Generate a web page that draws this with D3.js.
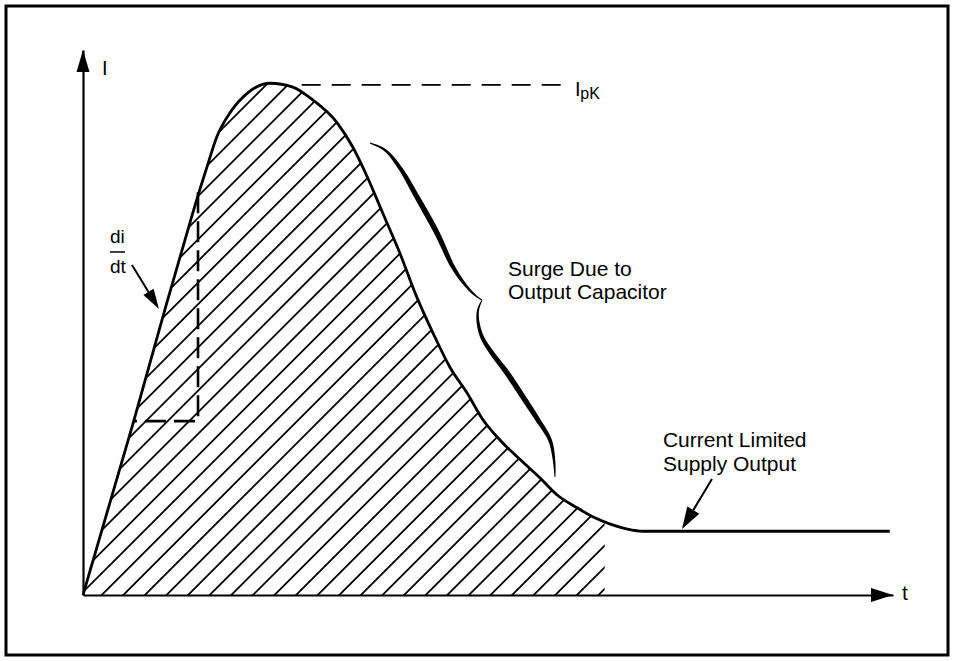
<!DOCTYPE html>
<html><head><meta charset="utf-8">
<script src="https://cdn.jsdelivr.net/npm/d3@7"></script>
<style>
html,body{margin:0;padding:0;background:#fff}
svg{display:block}
text{font-family:"Liberation Sans",Arial,Helvetica,sans-serif;fill:#000}
</style>
</head><body>
<svg id="c" width="954" height="661"></svg>
<script>
// ---- data (time t, current I in arbitrary units) ----
const timeValues    = [0, 6.2, 10.1, 13.2, 14.4, 15.3, 16.5, 18.2, 20.3, 23.1, 25.9, 28.4, 31.4, 33.3, 35.1, 37.0, 39.1, 41.2, 43.2, 45.3, 47.4, 49.4, 51.5, 54.0, 56.4, 58.5, 61.0, 63.0, 65.1, 67.2, 69.1, 99.6];
const currentValues = [0, 31.6, 52.3, 68.3, 74.3, 78.5, 84.0, 88.6, 92.1, 93.9, 93.2, 90.8, 86.6, 82.2, 76.7, 70.1, 62.8, 54.7, 48.1, 41.8, 37.1, 32.1, 28.4, 24.8, 21.5, 18.4, 16.0, 14.3, 13.0, 12.1, 11.7, 11.7];
const hatchEndT = 64.4;
const peakLineT = [27.0, 60.1];
const peakI = 93.6;
const slopeBoxT = [6.3, 14.2];
const slopeBoxI = [31.9, 73.9];
const braceUpperT = [35.43, 37.28, 39.14, 41.23, 43.70, 45.68, 47.41, 48.52, 49.26];
const braceUpperI = [82.94, 81.65, 78.35, 73.03, 66.42, 60.18, 56.51, 54.86, 54.13];
const braceLowerT = [49.26, 48.77, 48.77, 49.26, 50.49, 52.35, 54.32, 56.17, 57.65, 58.15, 58.27];
const braceLowerI = [54.13, 52.29, 50.09, 47.34, 44.40, 40.73, 36.33, 32.11, 28.44, 24.77, 21.65];
const axisLabels = ["t", "I"];
const surgeLabel = ["Surge Due to", "Output Capacitor"];
const supplyLabel = ["Current Limited", "Supply Output"];
const peakLabel = ["I", "pK"];
const slopeLabel = ["di", "dt"];

// ---- scales ----
const svg = d3.select("#c");
const x = d3.scaleLinear().domain([0, 100]).range([83, 893]);
const y = d3.scaleLinear().domain([0, 100]).range([595, 50]);

// border
svg.append("rect").attr("x", 6).attr("y", 6).attr("width", 942).attr("height", 649)
  .attr("fill", "none").attr("stroke", "#000").attr("stroke-width", 3);

const pts = timeValues.map((t, i) => [t, currentValues[i]]);
const line = d3.line().x(d => x(d[0])).y(d => y(d[1])).curve(d3.curveMonotoneX);
const area = d3.area().x(d => x(d[0])).y0(y(0)).y1(d => y(d[1])).curve(d3.curveMonotoneX);

// hatch clip
const defs = svg.append("defs");
defs.append("clipPath").attr("id", "underCurve").append("path").attr("d", area(pts));
defs.append("clipPath").attr("id", "hatchRect").append("rect")
  .attr("x", x(0)).attr("y", 0).attr("width", x(hatchEndT) - x(0)).attr("height", y(0));

const hg = svg.append("g").attr("clip-path", "url(#hatchRect)")
  .append("g").attr("clip-path", "url(#underCurve)");
const spacing = 21.6, c0 = 696.7;
for (let k = -35; k < 40; k++) {
  const c = c0 + spacing * k;
  hg.append("line").attr("x1", c - 700).attr("y1", 700).attr("x2", c + 100).attr("y2", -100)
    .attr("stroke", "#000").attr("stroke-width", 1.8);
}

// axes
const xAxis = d3.axisBottom(x).tickValues([]).tickSizeOuter(0);
const yAxis = d3.axisLeft(y).tickValues([]).tickSizeOuter(0);
svg.append("g").attr("transform", `translate(0,${y(0)})`).call(xAxis)
  .select(".domain").attr("stroke", "#000").attr("stroke-width", 2.2);
svg.append("g").attr("transform", `translate(${x(0)},0)`).call(yAxis)
  .select(".domain").attr("stroke", "#000").attr("stroke-width", 2.2);
// axis arrowheads
svg.append("path").attr("d", `M${x(100)},${y(0)} L${x(100) - 22},${y(0) - 7} L${x(100) - 22},${y(0) + 7} Z`).attr("fill", "#000");
svg.append("path").attr("d", `M${x(0)},${y(100)} L${x(0) - 6.5},${y(100) + 22} L${x(0) + 6.5},${y(100) + 22} Z`).attr("fill", "#000");

// main curve
svg.append("path").attr("d", line(pts)).attr("fill", "none").attr("stroke", "#000")
  .attr("stroke-width", 2.8).attr("stroke-linejoin", "round");

// peak dashed line
svg.append("line").attr("x1", x(peakLineT[0])).attr("x2", x(peakLineT[1]))
  .attr("y1", y(peakI)).attr("y2", y(peakI))
  .attr("stroke", "#000").attr("stroke-width", 1.6).attr("stroke-dasharray", "19,11");

// di/dt dashed box
svg.append("path")
  .attr("d", `M${x(slopeBoxT[1])},${y(slopeBoxI[1])} L${x(slopeBoxT[1])},${y(slopeBoxI[0])} L${x(slopeBoxT[0])},${y(slopeBoxI[0])}`)
  .attr("fill", "none").attr("stroke", "#000").attr("stroke-width", 2.6).attr("stroke-dasharray", "21,8");

// arrows
function arrow(t1, i1, t2, i2, len, hw) {
  const x1 = x(t1), y1 = y(i1), x2 = x(t2), y2 = y(i2);
  const dx = x2 - x1, dy = y2 - y1, L = Math.hypot(dx, dy);
  const ux = dx / L, uy = dy / L, bx = x2 - ux * len, by = y2 - uy * len;
  svg.append("line").attr("x1", x1).attr("y1", y1).attr("x2", bx).attr("y2", by)
    .attr("stroke", "#000").attr("stroke-width", 2);
  svg.append("path").attr("d", `M${x2},${y2} L${bx - uy * hw},${by + ux * hw} L${bx + uy * hw},${by - ux * hw} Z`).attr("fill", "#000");
}
arrow(6.05, 60.55, 9.38, 52.48, 20, 6);
arrow(77.65, 21.28, 73.95, 12.11, 22, 7);

// brace (tapered filled curve)
function taper(ts, is, maxW, minW) {
  const tmp = svg.append("path").attr("d",
    d3.line().x(d => x(d[0])).y(d => y(d[1])).curve(d3.curveCatmullRom)(ts.map((t, i) => [t, is[i]])))
    .attr("fill", "none");
  const node = tmp.node(), L = node.getTotalLength(), N = 80;
  const s = [];
  for (let k = 0; k <= N; k++) { const p = node.getPointAtLength(L * k / N); s.push([p.x, p.y]); }
  tmp.remove();
  const left = [], right = [];
  for (let k = 0; k <= N; k++) {
    const a = s[Math.max(0, k - 1)], b = s[Math.min(N, k + 1)];
    let dx = b[0] - a[0], dy = b[1] - a[1]; const l = Math.hypot(dx, dy) || 1; dx /= l; dy /= l;
    const u = k / N, w = (minW + (maxW - minW) * Math.pow(Math.sin(Math.PI * u), 0.8)) / 2;
    left.push([s[k][0] - dy * w, s[k][1] + dx * w]);
    right.push([s[k][0] + dy * w, s[k][1] - dx * w]);
  }
  const poly = left.concat(right.reverse());
  svg.append("path").attr("d", "M" + poly.map(p => p.join(",")).join("L") + "Z").attr("fill", "#000");
}
taper(braceUpperT, braceUpperI, 5.5, 0.9);
taper(braceLowerT, braceLowerI, 5.5, 0.9);

// labels
const T = (t, i, txt, size) => svg.append("text").attr("x", x(t)).attr("y", y(i)).attr("font-size", size).text(txt);
T(101.1, -0.9, axisLabels[0], 21);
T(2.35, 95.4, axisLabels[1], 20);
T(52.47, 58.53, surgeLabel[0], 21);
T(52.47, 54.31, surgeLabel[1], 21);
T(71.6, 27.16, supplyLabel[0], 21);
T(71.6, 22.75, supplyLabel[1], 21);
T(60.74, 91.56, peakLabel[0], 20);
T(61.4, 91.0, peakLabel[1], 16);
T(3.33, 64.59, slopeLabel[0], 19);
T(3.33, 59.08, slopeLabel[1], 19);
svg.append("line").attr("x1", x(3.33)).attr("x2", x(5.19)).attr("y1", y(62.94)).attr("y2", y(62.94))
  .attr("stroke", "#000").attr("stroke-width", 1.5);
</script>
</body></html>
